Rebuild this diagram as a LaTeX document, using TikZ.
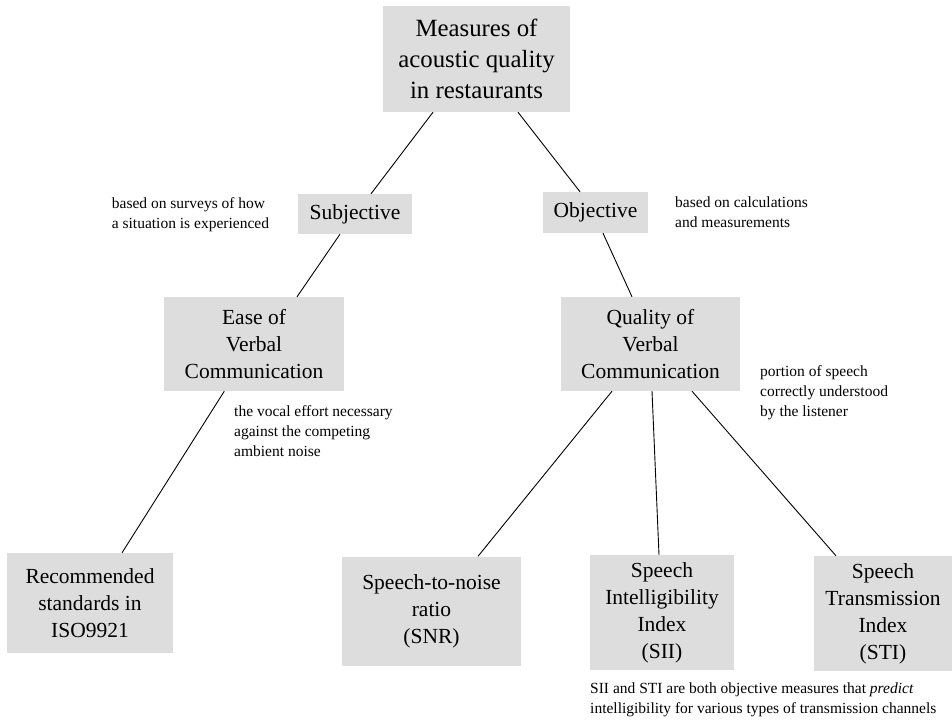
\documentclass[tikz,border=0pt]{standalone}
\usepackage{fontspec}
\setmainfont{Liberation Serif}
\usetikzlibrary{calc}
\definecolor{boxgray}{RGB}{221,221,221}
\tikzset{
  box/.style={fill=boxgray, draw=none, inner sep=0pt, align=center,
    font=\fontsize{21.5}{27}\selectfont},
  topbox/.style={box, font=\fontsize{24.8}{31}\selectfont},
  note/.style={anchor=west, inner sep=0pt, align=left,
    font=\fontsize{15.5}{20}\selectfont},
  conn/.style={draw=black, line width=0.9pt}
}
\begin{document}
\begin{tikzpicture}[x=1pt,y=-1pt]
\useasboundingbox (0,0) rectangle (952,720);

\node[topbox, minimum width=187pt, minimum height=106pt] (top) at (476.5,59) {Measures of\\acoustic quality\\in restaurants};

\node[box, minimum width=114pt, minimum height=40pt] (subj) at (355,214) {Subjective};
\node[box, minimum width=105pt, minimum height=41pt] (obj) at (595.5,212.5) {Objective};

\node[box, minimum width=180pt, minimum height=94pt] (ease) at (254,344) {Ease of\\Verbal\\Communication};
\node[box, minimum width=179pt, minimum height=94pt] (qual) at (650.5,344) {Quality of\\Verbal\\Communication};

\node[box, minimum width=166pt, minimum height=100pt] (rec) at (90,603) {Recommended\\standards in\\ISO9921};
\node[box, minimum width=179pt, minimum height=109pt] (snr) at (431.5,611) {Speech-to-noise\\ratio\\(SNR)};
\node[box, minimum width=144pt, minimum height=115pt] (sii) at (662,612.5) {Speech\\Intelligibility\\Index\\(SII)};
\node[box, minimum width=138pt, minimum height=115pt] (sti) at (883,613.5) {Speech\\Transmission\\Index\\(STI)};

\node[note] (n1) at (111.7,215) {based on surveys of how\\a situation is experienced};
\node[note] (n2) at (675,211.7) {based on calculations\\and measurements};
\node[note] (n3) at (234,431) {the vocal effort necessary\\against the competing\\ambient noise};
\node[note] (n4) at (760,393) {portion of speech\\correctly understood\\by the listener};
\node[note] (n5) at (590,699.5) {SII and STI are both objective measures that \textit{predict}\\intelligibility for various types of transmission channels};

\draw[conn] ([xshift=-43.5pt]top.south) -- ([xshift=16pt]subj.north);
\draw[conn] ([xshift=41.5pt]top.south) -- ([xshift=-15.5pt]obj.north);
\draw[conn] ([xshift=-15pt]subj.south) -- ([xshift=43pt]ease.north);
\draw[conn] ([xshift=7.5pt]obj.south) -- ([xshift=-18.5pt]qual.north);
\draw[conn] ([xshift=-29.7pt]ease.south) -- ([xshift=32pt]rec.north);
\draw[conn] ([xshift=-38.5pt]qual.south) -- ([xshift=46.5pt]snr.north);
\draw[conn] ([xshift=1.5pt]qual.south) -- ([xshift=-3pt]sii.north);
\draw[conn] ([xshift=41.5pt]qual.south) -- ([xshift=-47pt]sti.north);
\end{tikzpicture}
\end{document}
